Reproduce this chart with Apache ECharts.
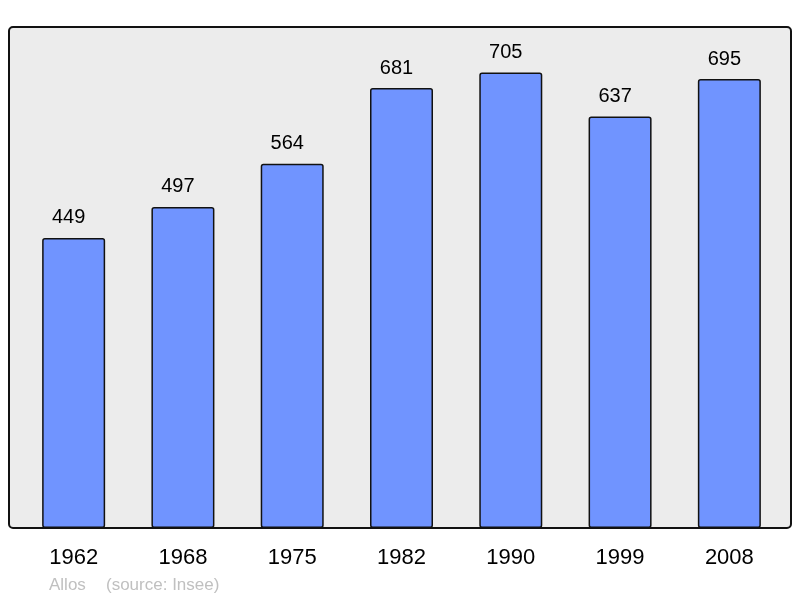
<!DOCTYPE html>
<html>
<head>
<meta charset="utf-8">
<script src="https://cdn.jsdelivr.net/npm/echarts@6/dist/echarts.min.js"></script>
<style>
  html, body { margin: 0; padding: 0; background: #fff; }
  #chart { width: 800px; height: 598px; }
</style>
</head>
<body>
<div id="chart"></div>
<script>
// recensements
var years = ['1962', '1968', '1975', '1982', '1990', '1999', '2008'];
var population = [449, 497, 564, 681, 705, 637, 695];
var commune = 'Allos';
var source = '(source: Insee)';

var myChart = echarts.init(document.getElementById('chart'));

var option = {
    animation: false,
    grid: { left: 19, right: 16, top: 27, bottom: 70 },
    graphic: [
        {
            // fond gris + cadre
            type: 'rect',
            z: -10,
            shape: { x: 9, y: 27, width: 782, height: 501, r: 4 },
            style: { fill: '#ececec', stroke: '#111', lineWidth: 2 }
        },
        {
            type: 'text', left: 49, top: 577,
            style: { text: commune, fill: '#c0c0c0', font: '17px "Liberation Sans", Arial, sans-serif' }
        },
        {
            type: 'text', left: 106, top: 577,
            style: { text: source, fill: '#c0c0c0', font: '17px "Liberation Sans", Arial, sans-serif' }
        }
    ],
    xAxis: {
        type: 'category',
        data: years,
        axisLine: { show: false },
        axisTick: { show: false },
        axisLabel: {
            margin: 19,
            color: '#000',
            fontSize: 22,
            fontFamily: 'Liberation Sans'
        }
    },
    yAxis: {
        type: 'value',
        min: 0,
        max: 775.5,
        show: false,
        splitLine: { show: false }
    },
    series: [{
        type: 'bar',
        data: population,
        barWidth: 63,
        itemStyle: {
            color: '#7094ff',
            borderColor: '#111',
            borderWidth: 1.5,
            borderRadius: 2
        },
        label: {
            show: true,
            position: 'top',
            distance: 10,
            offset: [-5, 0],
            color: '#000',
            fontSize: 20,
            fontFamily: 'Liberation Sans'
        }
    }]
};

myChart.setOption(option);
</script>
</body>
</html>
